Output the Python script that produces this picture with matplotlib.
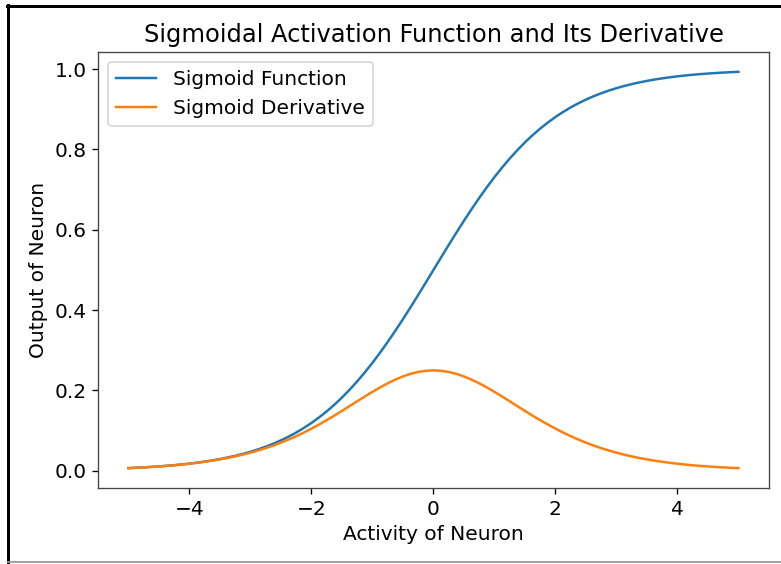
import matplotlib.pyplot as plt
from matplotlib.lines import Line2D

plt.rcParams['font.size'] = 12.2

# activity values and the two curves sampled along them
activity = [-5.0, -4.875, -4.75, -4.625, -4.5, -4.375, -4.25, -4.125,
            -4.0, -3.875, -3.75, -3.625, -3.5, -3.375, -3.25, -3.125,
            -3.0, -2.875, -2.75, -2.625, -2.5, -2.375, -2.25, -2.125,
            -2.0, -1.875, -1.75, -1.625, -1.5, -1.375, -1.25, -1.125,
            -1.0, -0.875, -0.75, -0.625, -0.5, -0.375, -0.25, -0.125,
            0.0, 0.125, 0.25, 0.375, 0.5, 0.625, 0.75, 0.875,
            1.0, 1.125, 1.25, 1.375, 1.5, 1.625, 1.75, 1.875,
            2.0, 2.125, 2.25, 2.375, 2.5, 2.625, 2.75, 2.875,
            3.0, 3.125, 3.25, 3.375, 3.5, 3.625, 3.75, 3.875,
            4.0, 4.125, 4.25, 4.375, 4.5, 4.625, 4.75, 4.875, 5.0]
sigmoid_out = [0.0067, 0.0076, 0.0086, 0.0097, 0.0110, 0.0124, 0.0140, 0.0159,
               0.0180, 0.0203, 0.0230, 0.0259, 0.0293, 0.0331, 0.0373, 0.0421,
               0.0474, 0.0534, 0.0601, 0.0675, 0.0759, 0.0851, 0.0953, 0.1067,
               0.1192, 0.1330, 0.1480, 0.1645, 0.1824, 0.2018, 0.2227, 0.2451,
               0.2689, 0.2942, 0.3208, 0.3487, 0.3775, 0.4073, 0.4378, 0.4688,
               0.5000, 0.5312, 0.5622, 0.5927, 0.6225, 0.6513, 0.6792, 0.7058,
               0.7311, 0.7549, 0.7773, 0.7982, 0.8176, 0.8355, 0.8520, 0.8670,
               0.8808, 0.8933, 0.9047, 0.9149, 0.9241, 0.9325, 0.9399, 0.9466,
               0.9526, 0.9579, 0.9627, 0.9669, 0.9707, 0.9741, 0.9770, 0.9797,
               0.9820, 0.9841, 0.9860, 0.9876, 0.9890, 0.9903, 0.9914, 0.9924, 0.9933]
sigmoid_deriv = [0.0066, 0.0075, 0.0085, 0.0096, 0.0109, 0.0122, 0.0138, 0.0156,
                 0.0177, 0.0199, 0.0225, 0.0252, 0.0285, 0.0320, 0.0359, 0.0403,
                 0.0452, 0.0505, 0.0565, 0.0629, 0.0701, 0.0779, 0.0862, 0.0953,
                 0.1050, 0.1153, 0.1261, 0.1374, 0.1491, 0.1611, 0.1731, 0.1850,
                 0.1966, 0.2076, 0.2179, 0.2271, 0.2350, 0.2414, 0.2461, 0.2490,
                 0.2500, 0.2490, 0.2461, 0.2414, 0.2350, 0.2271, 0.2179, 0.2076,
                 0.1966, 0.1850, 0.1731, 0.1611, 0.1491, 0.1374, 0.1261, 0.1153,
                 0.1050, 0.0953, 0.0862, 0.0779, 0.0701, 0.0629, 0.0565, 0.0505,
                 0.0452, 0.0403, 0.0359, 0.0320, 0.0285, 0.0252, 0.0225, 0.0199,
                 0.0177, 0.0156, 0.0138, 0.0122, 0.0109, 0.0096, 0.0085, 0.0075, 0.0066]

DPI = 119
fig = plt.figure(figsize=(781 / DPI, 564 / DPI), dpi=DPI)
ax = fig.add_axes([0.1255, 0.1348, 0.859, 0.773])

ax.plot(activity, sigmoid_out, color='tab:blue', linewidth=1.5, label='Sigmoid Function')
ax.plot(activity, sigmoid_deriv, color='tab:orange', linewidth=1.5, label='Sigmoid Derivative')

ax.set_title('Sigmoidal Activation Function and Its Derivative')
ax.set_xlabel('Activity of Neuron')
ax.set_ylabel('Output of Neuron')
ax.legend(loc='upper left')

for s in ax.spines.values():
    s.set_color('#444444')

# frame around the screenshot
fig.add_artist(Line2D([8 / 781, 8 / 781], [0, 1 - 5 / 564], color='black', linewidth=1.8))
fig.add_artist(Line2D([7 / 781, 1], [1 - 6 / 564, 1 - 6 / 564], color='black', linewidth=1.8))
fig.add_artist(Line2D([8 / 781, 1], [2 / 564, 2 / 564], color='#999999', linewidth=1.1))

fig.savefig('out.png', dpi=DPI)
